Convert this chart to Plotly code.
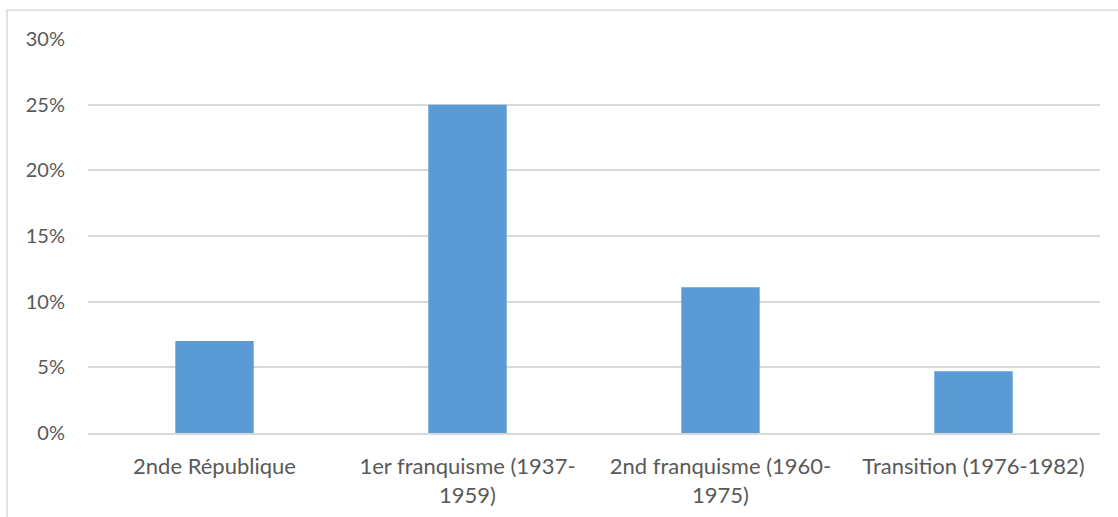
import plotly.graph_objects as go

# Share of each period (fraction)
periods = [
    "2nde République",
    "1er franquisme (1937-<br>1959)",
    "2nd franquisme (1960-<br>1975)",
    "Transition (1976-1982)",
]
shares = [0.070, 0.250, 0.111, 0.047]

y_ticks = [0, 0.05, 0.10, 0.15, 0.20, 0.25, 0.30]
y_tick_labels = ["0%", "5%", "10%", "15%", "20%", "25%", "30%"]

W, H = 1118, 517
ML, MR, MT, MB = 88, 18, 39, 84
plot_w = W - ML - MR
plot_h = H - MT - MB

font_family = "Lato, Open Sans, sans-serif"
text_color = "#595959"

fig = go.Figure(
    go.Bar(
        x=periods,
        y=shares,
        marker=dict(color="#5B9BD5", line=dict(width=0)),
        width=0.31,
        hoverinfo="skip",
    )
)

# outer chart frame, expressed in paper coordinates
fig.add_shape(
    type="rect",
    xref="paper", yref="paper",
    x0=(7 - ML) / plot_w, x1=(W + 10 - ML) / plot_w,
    y0=-(H + 10 - MT - plot_h) / plot_h, y1=(H - MB - 10) / plot_h,
    line=dict(color="#D9D9D9", width=1.5),
    fillcolor="rgba(0,0,0,0)",
    layer="below",
)

fig.update_layout(
    width=W, height=H,
    margin=dict(l=ML, r=MR, t=MT, b=MB),
    paper_bgcolor="white",
    plot_bgcolor="white",
    showlegend=False,
    font=dict(family=font_family, size=21, color=text_color),
    bargap=0.69,
)

fig.update_xaxes(
    showgrid=False,
    showline=True,
    linecolor="#D9D9D9",
    linewidth=1.5,
    ticks="",
    ticklabelstandoff=13,
    tickfont=dict(size=22, color=text_color),
    automargin=False,
    fixedrange=True,
)
fig.update_yaxes(
    range=[0, 0.30],
    tickvals=y_ticks,
    ticktext=y_tick_labels,
    showgrid=True,
    gridcolor="#D9D9D9",
    gridwidth=1.5,
    zeroline=False,
    showline=False,
    ticks="",
    ticklabelstandoff=22,
    tickfont=dict(size=20, color=text_color),
    automargin=False,
    fixedrange=True,
)

fig.write_html("out.html")
